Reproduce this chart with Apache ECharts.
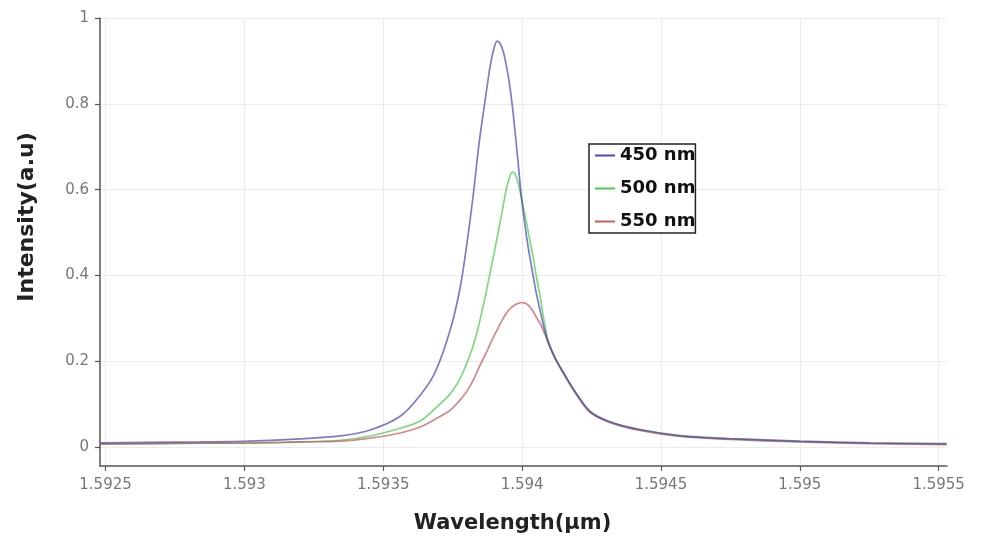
<!DOCTYPE html>
<html>
<head>
<meta charset="utf-8">
<script src="https://cdn.jsdelivr.net/npm/echarts@6/dist/echarts.min.js"></script>
<style>
  html, body { margin: 0; padding: 0; background: #ffffff; }
  #chart { width: 981px; height: 544px; }
</style>
</head>
<body>
<div id="chart"></div>
<script>
// Resonance spectra: wavelength (µm) against normalised intensity
const wavelength = [
  1.592482, 1.592662, 1.592842, 1.593022, 1.593201, 1.593345, 1.593453, 1.593561,
  1.593633, 1.593687, 1.593741, 1.593777, 1.593802, 1.593824, 1.593845, 1.593867,
  1.593885, 1.593899, 1.593910, 1.593921, 1.593932, 1.593942, 1.593953, 1.593964,
  1.593975, 1.593986, 1.593996, 1.594007, 1.594018, 1.594029, 1.594040, 1.594050,
  1.594065, 1.594079, 1.594094, 1.594119, 1.594155, 1.594191, 1.594245, 1.594317,
  1.594424, 1.594568, 1.594748, 1.595000, 1.595252, 1.595529
];
const intensity450 = [
  0.010, 0.011, 0.012, 0.014, 0.019, 0.026, 0.040, 0.072,
  0.121, 0.175, 0.273, 0.372, 0.478, 0.588, 0.708, 0.809,
  0.888, 0.930, 0.946, 0.940, 0.922, 0.893, 0.853, 0.800,
  0.733, 0.660, 0.592, 0.533, 0.482, 0.438, 0.398, 0.362,
  0.318, 0.278, 0.243, 0.208, 0.167, 0.129, 0.083, 0.059,
  0.041, 0.027, 0.020, 0.014, 0.010, 0.008
];
const intensity500 = [
  0.008, 0.008, 0.009, 0.010, 0.012, 0.016, 0.026, 0.044,
  0.061, 0.090, 0.124, 0.160, 0.198, 0.237, 0.287, 0.350,
  0.407, 0.452, 0.488, 0.525, 0.563, 0.598, 0.625, 0.641,
  0.636, 0.615, 0.585, 0.550, 0.515, 0.478, 0.441, 0.402,
  0.350, 0.295, 0.248, 0.207, 0.166, 0.128, 0.082, 0.058,
  0.040, 0.026, 0.019, 0.013, 0.009, 0.007
];
const intensity550 = [
  0.007, 0.008, 0.009, 0.009, 0.012, 0.014, 0.021, 0.033,
  0.047, 0.065, 0.086, 0.110, 0.131, 0.156, 0.186, 0.215,
  0.240, 0.259, 0.273, 0.287, 0.300, 0.311, 0.320, 0.327,
  0.332, 0.335, 0.337, 0.336, 0.333, 0.326, 0.316, 0.304,
  0.288, 0.268, 0.246, 0.206, 0.165, 0.127, 0.081, 0.057,
  0.039, 0.025, 0.018, 0.012, 0.008, 0.006
];
const seriesNames = ['450 nm', '500 nm', '550 nm'];
const seriesColors = ['#4a4ab4', '#4ccc4c', '#c45c5c'];
// drawing order: 500 nm at the bottom, then 550 nm, 450 nm on top
const seriesZ = [4, 2, 3];
const xTicks = [1.5925, 1.593, 1.5935, 1.594, 1.5945, 1.595, 1.5955];
const yTicks = [0, 0.2, 0.4, 0.6, 0.8, 1];

const pairs = (ys) => wavelength.map((x, i) => [x, ys[i]]);
const seriesData = [intensity450, intensity500, intensity550];

const chart = echarts.init(document.getElementById('chart'), null, { renderer: 'canvas' });

const axisGray = '#555555';
const labelGray = '#777777';
const titleFont = 'DejaVu Sans';

chart.setOption({
  backgroundColor: '#ffffff',
  animation: false,
  grid: { left: 100, right: 34, top: 18, bottom: 78 },
  legend: {
    data: seriesNames,
    orient: 'vertical',
    left: 589,
    top: 144,
    icon: 'rect',
    itemWidth: 20,
    itemHeight: 2,
    itemGap: 10,
    padding: [0, 0, 0, 6],
    borderColor: '#222222',
    borderWidth: 1.5,
    backgroundColor: '#ffffff',
    textStyle: {
      fontFamily: titleFont,
      fontWeight: 'bold',
      fontSize: 18,
      lineHeight: 23,
      color: '#111111'
    }
  },
  xAxis: {
    type: 'value',
    min: 1.59248,
    max: 1.59553,
    name: 'Wavelength(\u00b5m)',
    nameLocation: 'middle',
    nameGap: 47,
    nameTextStyle: {
      fontFamily: titleFont,
      fontWeight: 'bold',
      fontSize: 21,
      color: '#222222',
      padding: [0, 22, 0, 0]
    },
    axisLine: { show: true, onZero: false, lineStyle: { color: axisGray, width: 1.5 } },
    axisTick: { show: true, length: 5, customValues: xTicks, lineStyle: { color: axisGray, width: 1.2 } },
    axisLabel: {
      customValues: xTicks,
      margin: 12,
      fontFamily: 'DejaVu Sans',
      fontSize: 15,
      color: labelGray
    },
    splitLine: { show: true, lineStyle: { color: '#ececec', width: 1 } }
  },
  yAxis: {
    type: 'value',
    min: -0.044,
    max: 1,
    name: 'Intensity(a.u)',
    nameLocation: 'middle',
    nameGap: 62,
    nameRotate: 90,
    nameTextStyle: {
      fontFamily: titleFont,
      fontWeight: 'bold',
      fontSize: 22,
      color: '#222222',
      padding: [0, 0, 0, 50]
    },
    axisLine: { show: true, onZero: false, lineStyle: { color: axisGray, width: 1.5 } },
    axisTick: { show: true, length: 5, customValues: yTicks, lineStyle: { color: axisGray, width: 1.2 } },
    axisLabel: {
      customValues: yTicks,
      margin: 11,
      fontFamily: 'DejaVu Sans',
      fontSize: 15,
      color: labelGray
    },
    splitLine: { show: true, lineStyle: { color: '#ececec', width: 1 } }
  },
  series: seriesNames.map((name, i) => ({
    name: name,
    type: 'line',
    z: seriesZ[i],
    data: pairs(seriesData[i]),
    smooth: 0.3,
    symbol: 'none',
    lineStyle: { color: seriesColors[i], width: 1.7, opacity: 0.72 },
    itemStyle: { color: seriesColors[i] }
  }))
});
</script>
</body>
</html>
